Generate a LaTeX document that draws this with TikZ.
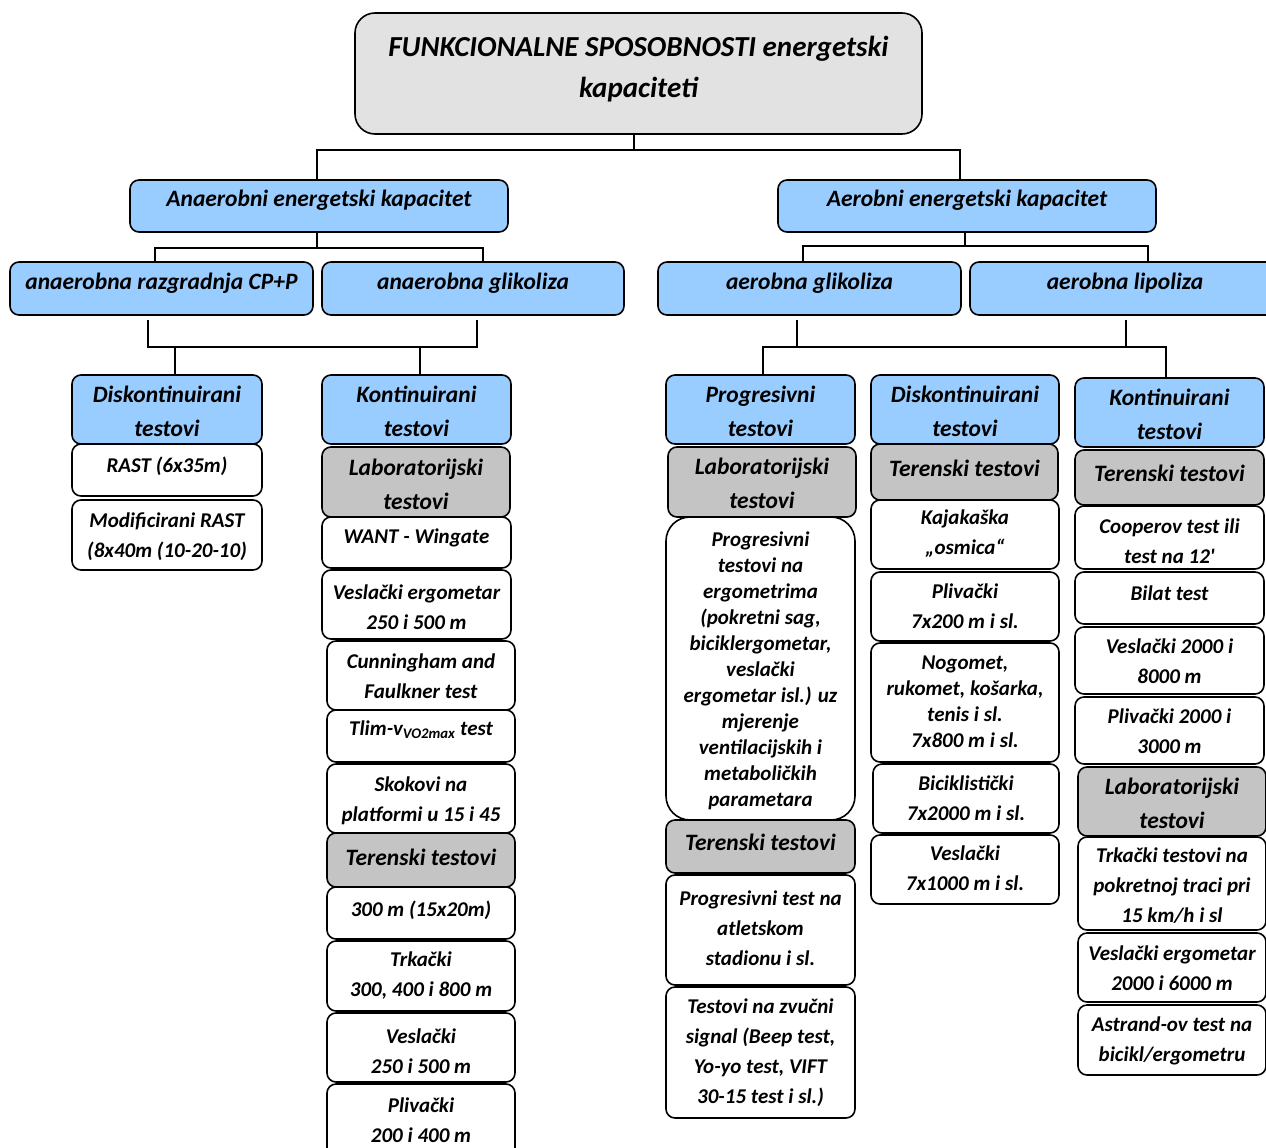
\documentclass[tikz,border=0pt]{standalone}
\usepackage{fontspec}
\setmainfont{Carlito}
\usetikzlibrary{calc}
\definecolor{blueF}{HTML}{99CCFF}
\definecolor{grayF}{HTML}{C4C4C4}
\definecolor{topF}{HTML}{E2E2E2}
\newcommand\bx[9]{%
  \node[#6, minimum width={(#4-#2)*1pt}, minimum height={(#5-#3)*1pt}] (#1) at ({(#2+#4)/2},{(#3+#5)/2}) {};
  \node[#7] (#1t) at ({(#2+#4)/2},#8) {#9};
}
\begin{document}
\begin{tikzpicture}[x=1pt,y=-1pt,
  bxbase/.style={draw=black, line width=1.6pt, rounded corners=9pt, inner sep=0pt, outer sep=0pt},
  bxblue/.style={bxbase, fill=blueF},
  bxgray/.style={bxbase, fill=grayF},
  bxwhite/.style={bxbase, fill=white},
  bxbig/.style={bxbase, fill=white, rounded corners=24pt},
  bxtop/.style={bxbase, fill=topF, rounded corners=20pt},
  tbase/.style={align=center, inner sep=0pt},
  thead/.style={tbase, font=\fontsize{23.5}{34}\selectfont\bfseries\itshape},
  tsmall/.style={tbase, font=\fontsize{21}{30}\selectfont\bfseries\itshape},
  ttight/.style={tbase, font=\fontsize{21}{26}\selectfont\bfseries\itshape},
  ttitle/.style={tbase, font=\fontsize{29}{41}\selectfont\bfseries\itshape},
  conn/.style={draw=black, line width=1.6pt}
]
\fill[white] (0,0) rectangle (1266,1148);
\useasboundingbox (0,0) rectangle (1266,1148);

% top
\bx{top}{355}{13}{922}{134}{bxtop}{ttitle}{69}{FUNKCIONALNE SPOSOBNOSTI energetski\\kapaciteti}
% level 1
\bx{an}{130}{180}{508}{232}{bxblue}{thead}{200}{Anaerobni energetski kapacitet}
\bx{ae}{778}{180}{1156}{232}{bxblue}{thead}{200}{Aerobni energetski kapacitet}
% level 2
\bx{cp}{10}{262}{313}{315}{bxblue}{thead}{283}{anaerobna razgradnja CP+P}
\bx{ag}{322}{262}{624}{315}{bxblue}{thead}{283}{anaerobna glikoliza}
\bx{gl}{658}{262}{961}{315}{bxblue}{thead}{283}{aerobna glikoliza}
\bx{lp}{970}{262}{1280}{315}{bxblue}{thead}{283}{aerobna lipoliza}

% column A
\bx{dkA}{72}{375}{262}{444}{bxblue}{thead}{411.5}{Diskontinuirani\\testovi}
\bx{rast}{72}{444}{262}{496}{bxwhite}{tsmall}{466}{RAST (6x35m)}
\bx{mrast}{72}{500}{262}{570}{bxwhite}{tsmall}{537}{Modificirani RAST\\(8x40m (10-20-10)}

% column B
\bx{ktB}{322}{375}{511}{444}{bxblue}{thead}{411.5}{Kontinuirani\\testovi}
\bx{labB}{322}{447}{510}{517}{bxgray}{thead}{484.5}{Laboratorijski\\testovi}
\bx{want}{322}{517}{511}{568}{bxwhite}{tsmall}{538}{WANT - Wingate}
\bx{vesB}{322}{570}{511}{639}{bxwhite}{tsmall}{607}{Veslački ergometar\\250 i 500 m}
\bx{cun}{327}{641}{515}{710}{bxwhite}{tsmall}{676}{Cunningham and\\Faulkner test}
\bx{tlim}{327}{710}{515}{762}{bxwhite}{tsmall}{730}{Tlim-v\textsubscript{VO2max} test}
\bx{skok}{327}{764}{515}{833}{bxwhite}{tsmall}{801}{Skokovi na\\platformi u 15 i 45}
\bx{terB}{327}{833}{515}{887}{bxgray}{thead}{857}{Terenski testovi}
\bx{mtri}{327}{887}{515}{939}{bxwhite}{tsmall}{910}{300 m (15x20m)}
\bx{trkB}{327}{941}{515}{1011}{bxwhite}{tsmall}{976}{Trkački\\300, 400 i 800 m}
\bx{vesB2}{327}{1013}{515}{1082}{bxwhite}{tsmall}{1051}{Veslački\\250 i 500 m}
\bx{plB}{327}{1084}{515}{1165}{bxwhite}{tsmall}{1120}{Plivački\\200 i 400 m}

% column C
\bx{prC}{666}{375}{855}{444}{bxblue}{thead}{411.5}{Progresivni\\testovi}
\bx{labC}{668}{447}{856}{517}{bxgray}{thead}{483.5}{Laboratorijski\\testovi}
\bx{bigC}{666}{517}{855}{820}{bxbig}{ttight}{671}{Progresivni\\testovi na\\ergometrima\\(pokretni sag,\\biciklergometar,\\veslački\\ergometar isl.) uz\\mjerenje\\ventilacijskih i\\metaboličkih\\parametara}
\bx{terC}{666}{820}{855}{873}{bxgray}{thead}{842}{Terenski testovi}
\bx{atl}{666}{875}{855}{985}{bxwhite}{tsmall}{928}{Progresivni test na\\atletskom\\stadionu i sl.}
\bx{beep}{666}{987}{855}{1118}{bxwhite}{tsmall}{1053}{Testovi na zvučni\\signal (Beep test,\\Yo-yo test, VIFT\\30-15 test i sl.)}

% column D
\bx{dkD}{871}{375}{1059}{444}{bxblue}{thead}{411.5}{Diskontinuirani\\testovi}
\bx{terD}{871}{444}{1058}{500}{bxgray}{thead}{468}{Terenski testovi}
\bx{kaj}{871}{500}{1059}{569}{bxwhite}{tsmall}{534}{Kajakaška\\„osmica“}
\bx{plD}{871}{572}{1059}{641}{bxwhite}{tsmall}{606}{Plivački\\7x200 m i sl.}
\bx{nog}{871}{643}{1059}{762}{bxwhite}{ttight}{702}{Nogomet,\\rukomet, košarka,\\tenis i sl.\\7x800 m i sl.}
\bx{bic}{873}{764}{1059}{833}{bxwhite}{tsmall}{798}{Biciklistički\\7x2000 m i sl.}
\bx{vesD}{871}{835}{1059}{904}{bxwhite}{tsmall}{868}{Veslački\\7x1000 m i sl.}

% column E
\bx{ktE}{1075}{378}{1264}{447}{bxblue}{thead}{414.5}{Kontinuirani\\testovi}
\bx{terE}{1075}{450}{1264}{505}{bxgray}{thead}{473}{Terenski testovi}
\bx{coop}{1075}{506}{1264}{569}{bxwhite}{tsmall}{541.5}{Cooperov test ili\\test na 12\textquotesingle}
\bx{bilat}{1075}{572}{1264}{624}{bxwhite}{tsmall}{593}{Bilat test}
\bx{vesE}{1075}{627}{1264}{694}{bxwhite}{tsmall}{661}{Veslački 2000 i\\8000 m}
\bx{plE}{1075}{697}{1264}{764}{bxwhite}{tsmall}{731}{Plivački 2000 i\\3000 m}
\bx{labE}{1078}{767}{1266}{836}{bxgray}{thead}{803.5}{Laboratorijski\\testovi}
\bx{trkE}{1078}{837}{1266}{930}{bxwhite}{tsmall}{886}{Trkački testovi na\\pokretnoj traci pri\\15 km/h i sl}
\bx{vesE2}{1078}{933}{1266}{1002}{bxwhite}{tsmall}{968}{Veslački ergometar\\2000 i 6000 m}
\bx{ast}{1078}{1005}{1266}{1075}{bxwhite}{tsmall}{1041}{Astrand-ov test na\\bicikl/ergometru}

% connectors
\coordinate (j0) at (634,150);
\draw[conn] ($(top.south)+(-4.5,0)$) -- (j0);
\draw[conn] ($(an.north)+(-2,0)$) |- (j0) -| ($(ae.north)+(-7,0)$);

\coordinate (j1) at (317,248);
\draw[conn] ($(an.south)+(-2,0)$) -- (j1);
\draw[conn] ($(cp.north)+(-6.5,0)$) |- (j1) -| ($(ag.north)+(10,0)$);

\coordinate (j2) at (965,246);
\draw[conn] ($(ae.south)+(-2,0)$) -- (j2);
\draw[conn] ($(gl.north)+(-6.5,0)$) |- (j2) -| ($(lp.north)+(23,0)$);

\coordinate (j3) at (148,347);
\coordinate (j4) at (477,347);
\draw[conn] ($(cp.south)+(-13.5,5)$) -- (j3) -- (j4) -- ($(ag.south)+(4,5)$);
\draw[conn] ($(dkA.north)+(8,0)$) -- ($(dkA.north)+(8,-28)$);
\draw[conn] ($(ktB.north)+(3.5,0)$) -- ($(ktB.north)+(3.5,-28)$);

\coordinate (j5) at (797,347);
\coordinate (j6) at (1126,347);
\draw[conn] ($(gl.south)+(-12.5,5)$) -- (j5);
\draw[conn] ($(lp.south)+(1,5)$) -- (j6);
\draw[conn] ($(prC.north)+(2.5,0)$) |- (j5) -- (j6) -| ($(ktE.north)+(-3.5,0)$);
\end{tikzpicture}
\end{document}
